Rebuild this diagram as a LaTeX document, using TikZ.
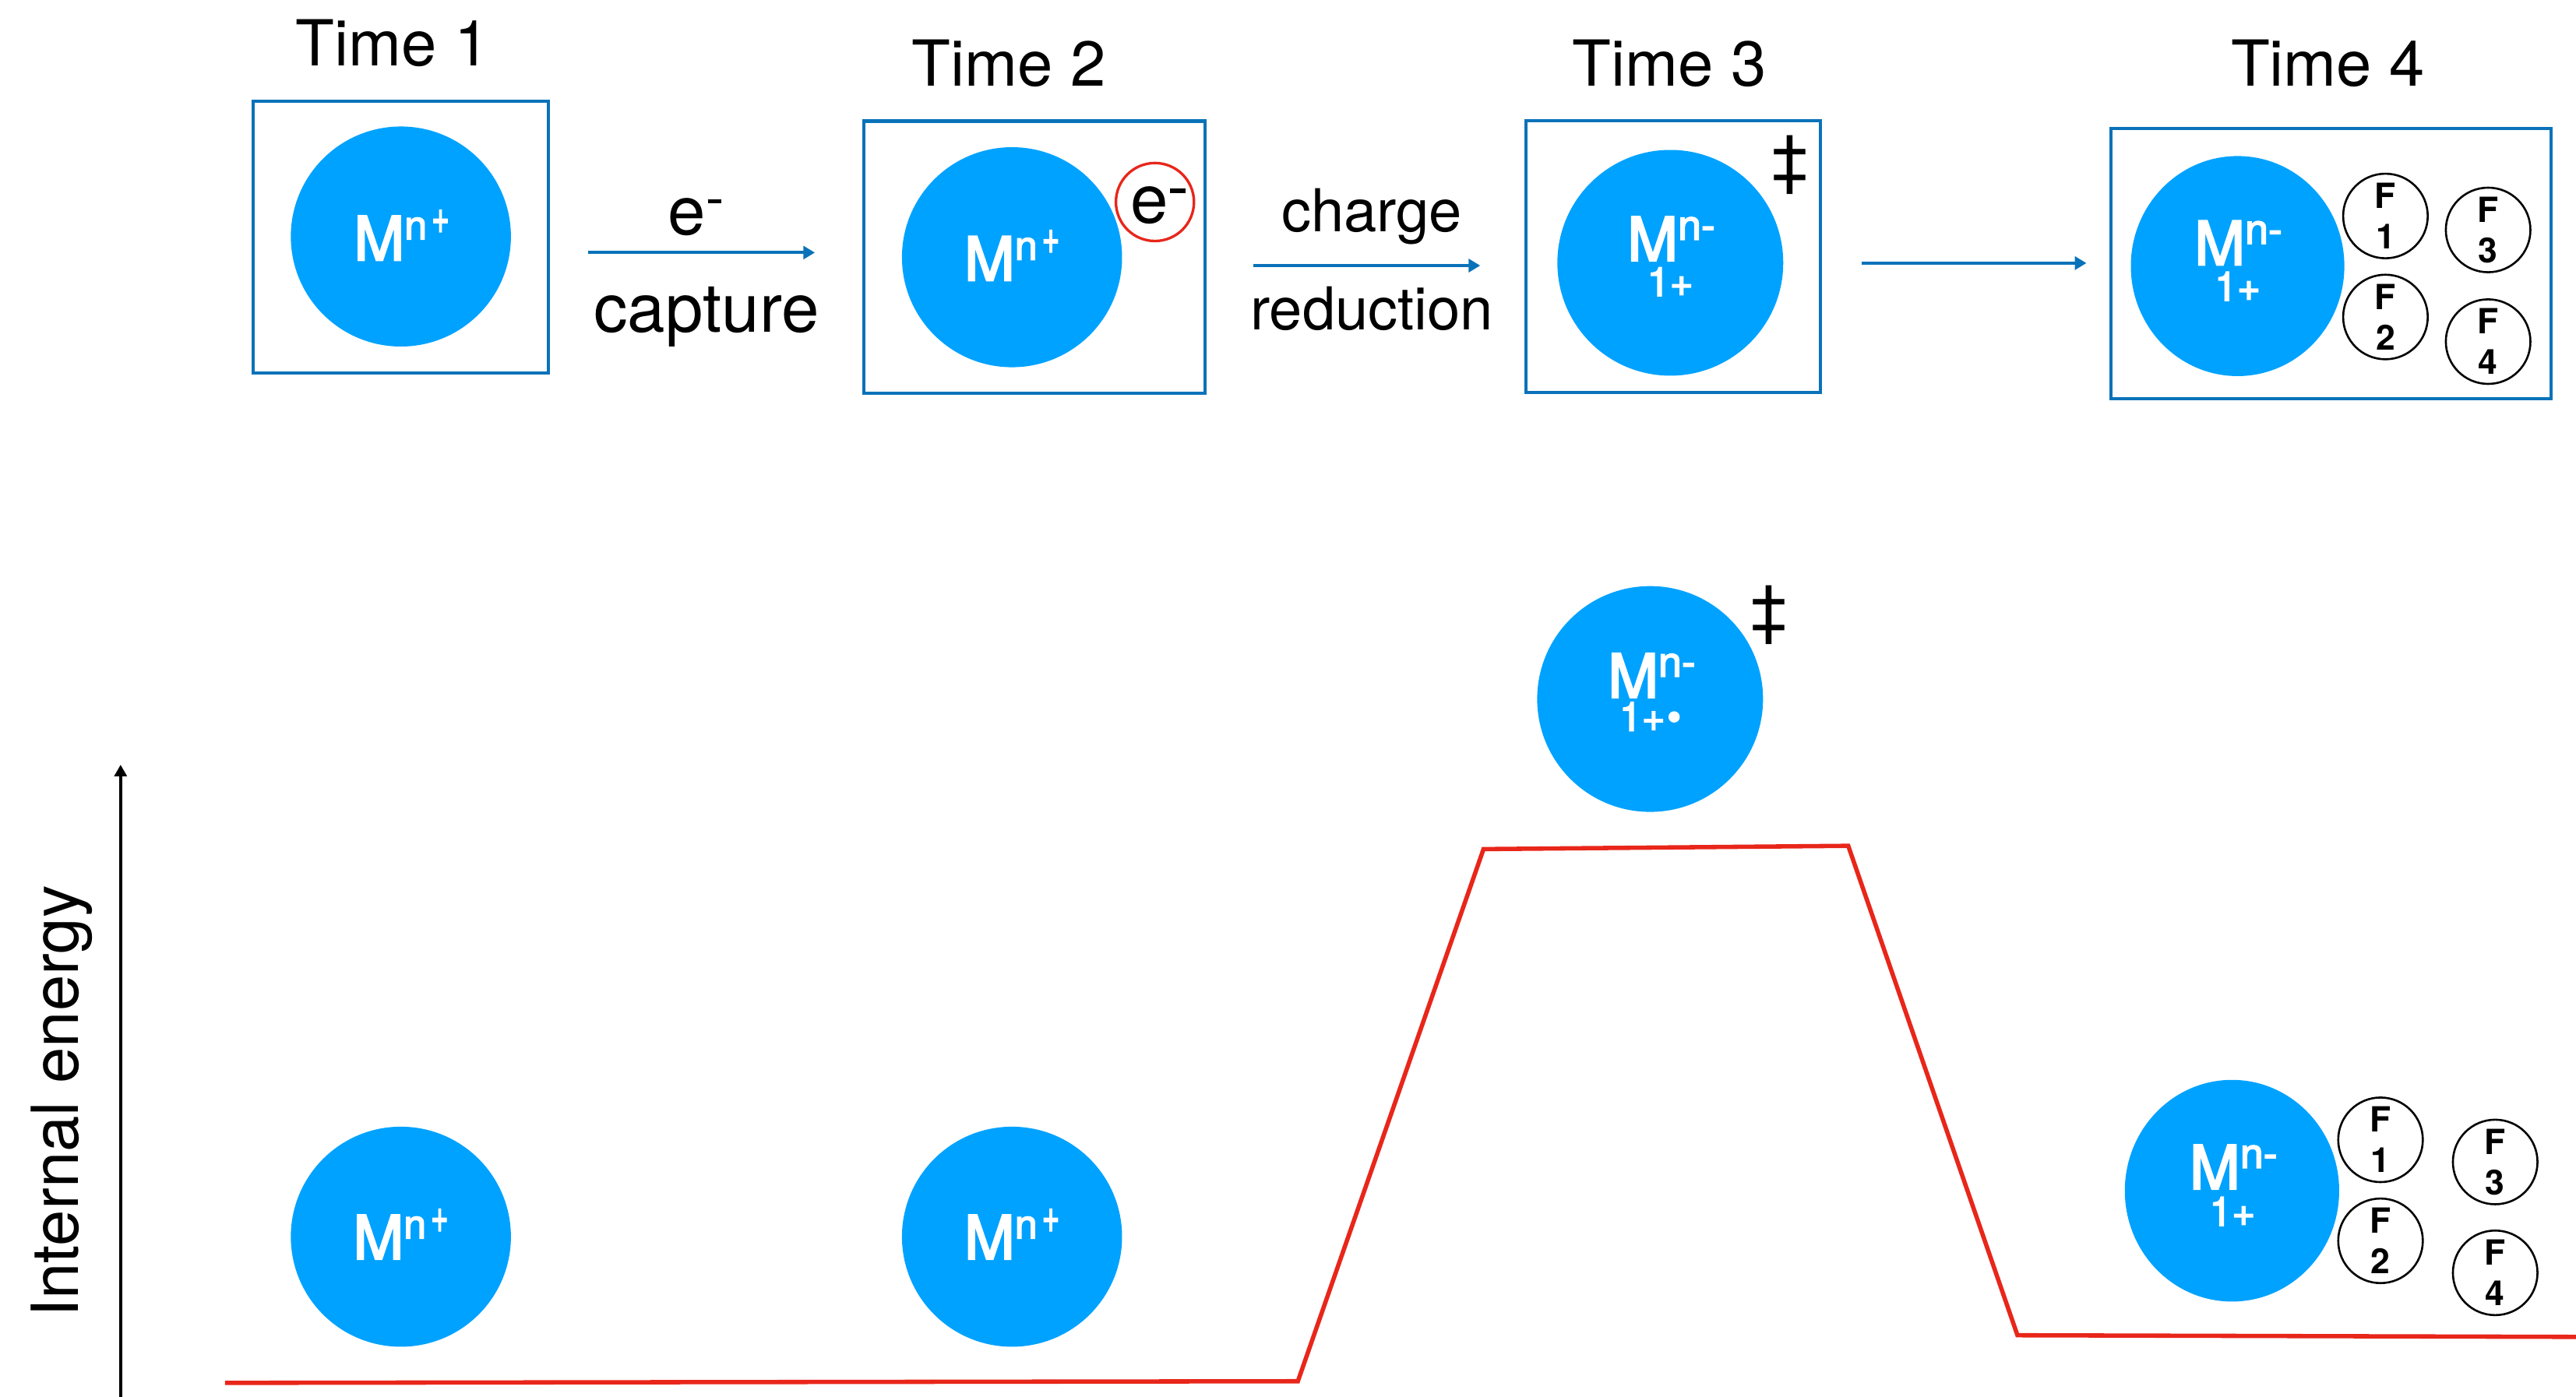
\documentclass[tikz,border=0pt]{standalone}
\usepackage{fontspec}
\setmainfont{TeX Gyre Heros}
\newfontfamily\medfont{TeX Gyre Heros}[BoldFont={TeX Gyre Heros},BoldFeatures={FakeBold=3}]
\usetikzlibrary{arrows.meta,shapes.geometric}
\definecolor{ballblue}{RGB}{0,162,255}
\definecolor{boxblue}{RGB}{10,114,185}
\definecolor{linered}{RGB}{232,38,26}
\newcommand{\fs}[1]{\fontsize{#1}{#1}\selectfont}
\newcommand{\mionp}{M\raisebox{7.2pt}{\fs{14}n\hspace{1.6pt}\raisebox{2.2pt}{\scalebox{0.75}[1.2]{+}}}}
\newcommand{\mionm}{M\raisebox{7.3pt}{\fs{14.5}n-}}
\begin{document}
\begin{tikzpicture}[x=0.02cm,y=-0.02cm,
  ball/.style={ellipse,fill=ballblue,draw=none,inner sep=0pt},
  frame/.style={rectangle,draw=boxblue,line width=1.1pt,inner sep=0pt},
  flow/.style={draw=boxblue,line width=1.1pt,-{Triangle[length=4pt,width=4.5pt]}},
  ion/.style={text=white,inner sep=0pt,anchor=base,font=\medfont\bfseries\fs{21}},
  ionsub/.style={text=white,inner sep=0pt,anchor=base,font=\medfont\bfseries\fs{14}},
  frag/.style={circle,draw=black,line width=0.7pt,minimum size=1.03cm,inner sep=0pt,align=center,font=\fontsize{12}{14}\selectfont\bfseries},
  lbl/.style={inner sep=0pt,anchor=base},
  ddag/.style={inner sep=0pt,font=\fs{23}},
  energy/.style={draw=linered,line width=1.5pt,line join=miter}
]
\useasboundingbox (0,0) rectangle (1568,850.6);

% ---- Time labels
\node[lbl,font=\fs{22}] (t1) at (239,40) {Time 1};
\node[lbl,font=\fs{22}] (t2) at (614,52.2) {Time 2};
\node[lbl,font=\fs{22}] (t3) at (1016,52.3) {Time 3};
\node[lbl,font=\fs{22}] (t4) at (1417,52.3) {Time 4};

% ---- Boxes
\node[frame,minimum width=3.60cm,minimum height=3.31cm] (b1) at (244,144.2) {};
\node[frame,minimum width=4.15cm,minimum height=3.316cm] (b2) at (629.75,156.6) {};
\node[frame,minimum width=3.59cm,minimum height=3.31cm] (b3) at (1018.5,156.1) {};
\node[frame,minimum width=5.36cm,minimum height=3.294cm] (b4) at (1419,160.35) {};

% ---- Top molecules
\node[ball,minimum width=2.68cm,minimum height=2.68cm] (c1) at (244,144) {};
\node[ion] (c1t) at (244.5,158.4) {\mionp};

\node[ball,minimum width=2.68cm,minimum height=2.68cm] (c2) at (616,156.6) {};
\node[ion] (c2t) at (616,170.8) {\mionp};
\node[circle,draw=linered,line width=0.9pt,minimum size=0.95cm,inner sep=0pt] (ec) at (703,123) {};
\node[lbl,font=\fs{23.5}] (ect) at (705,136) {e\hspace{0.6pt}\raisebox{10.6pt}{\rule{5.5pt}{1.4pt}}};

\node[ball,minimum width=2.75cm,minimum height=2.75cm] (c3) at (1016.7,160) {};
\node[ion] (c3t) at (1017.3,158.8) {\mionm};
\node[ionsub] (c3s) at (1016.7,180.2) {1+};
\node[ddag] (dd1) at (1089.6,100.5) {‡};

\node[ball,minimum width=2.6cm,minimum height=2.68cm] (c4) at (1362,162) {};
\node[ion] (c4t) at (1362.5,161.3) {\mionm};
\node[ionsub] (c4s) at (1362,183) {1+};
\node[frag] (f1) at (1452,131.5) {F\\1};
\node[frag] (f2) at (1452,193) {F\\2};
\node[frag] (f3) at (1514.5,140) {F\\3};
\node[frag] (f4) at (1514.5,208) {F\\4};

% ---- Arrows and labels
\coordinate (a1s) at (358,153.8);
\coordinate (a1e) at (496,153.8);
\coordinate (a2s) at (763,161.7);
\coordinate (a2e) at (901,161.7);
\coordinate (a3s) at (1133,160.2);
\coordinate (a3e) at (1270,160.2);
\draw[flow] (a1s) -- (a1e);
\draw[flow] (a2s) -- (a2e);
\draw[flow] (a3s) -- (a3e);
\node[lbl,font=\fs{23.5}] (l1a) at (423,143) {e\hspace{0.6pt}\raisebox{11pt}{\rule{4.8pt}{1.4pt}}};
\node[lbl,font=\fs{23.5}] (l1b) at (430,202) {capture};
\node[lbl,font=\fs{20.5}] (l2a) at (835,141) {charge};
\node[lbl,font=\fs{20.5}] (l2b) at (835,200.6) {reduction};

% ---- Energy axis
\coordinate (ax0) at (73.4,851);
\coordinate (ax1) at (73.4,465.6);
\draw[line width=1pt,-{Triangle[length=4pt,width=4.2pt]}] (ax0) -- (ax1);
\node[lbl,rotate=90,font=\fs{22.5}] (ylab) at (47.6,670.6) {Internal energy};

% ---- Energy profile
\coordinate (p0) at (137,842);
\coordinate (p1) at (790,841);
\coordinate (p2) at (903,517);
\coordinate (p3) at (1125,515);
\coordinate (p4) at (1228,813);
\coordinate (p5) at (1568,814);
\draw[energy] (p0) -- (p1) -- (p2) -- (p3) -- (p4) -- (p5);

% ---- Energy molecules
\node[ball,minimum width=2.68cm,minimum height=2.68cm] (e1) at (244,753) {};
\node[ion] (e1t) at (244,766.7) {\mionp};
\node[ball,minimum width=2.68cm,minimum height=2.68cm] (e2) at (616,753) {};
\node[ion] (e2t) at (616,766.7) {\mionp};

\node[ball,minimum width=2.75cm,minimum height=2.75cm] (e3) at (1004.4,425.6) {};
\node[ion] (e3t) at (1005.4,424.7) {\mionm};
\node[ionsub] (e3s) at (1004.5,445) {1+\hspace{0.6pt}•};
\node[ddag] (dd2) at (1077,374.6) {‡};

\node[ball,minimum width=2.61cm,minimum height=2.7cm] (e4) at (1358.6,725) {};
\node[ion] (e4t) at (1359.5,724) {\mionm};
\node[ionsub] (e4s) at (1358.8,746.3) {1+};
\node[frag] (g1) at (1449,694) {F\\1};
\node[frag] (g2) at (1449,755.5) {F\\2};
\node[frag] (g3) at (1518.8,707.5) {F\\3};
\node[frag] (g4) at (1518.8,775) {F\\4};
\end{tikzpicture}
\end{document}
